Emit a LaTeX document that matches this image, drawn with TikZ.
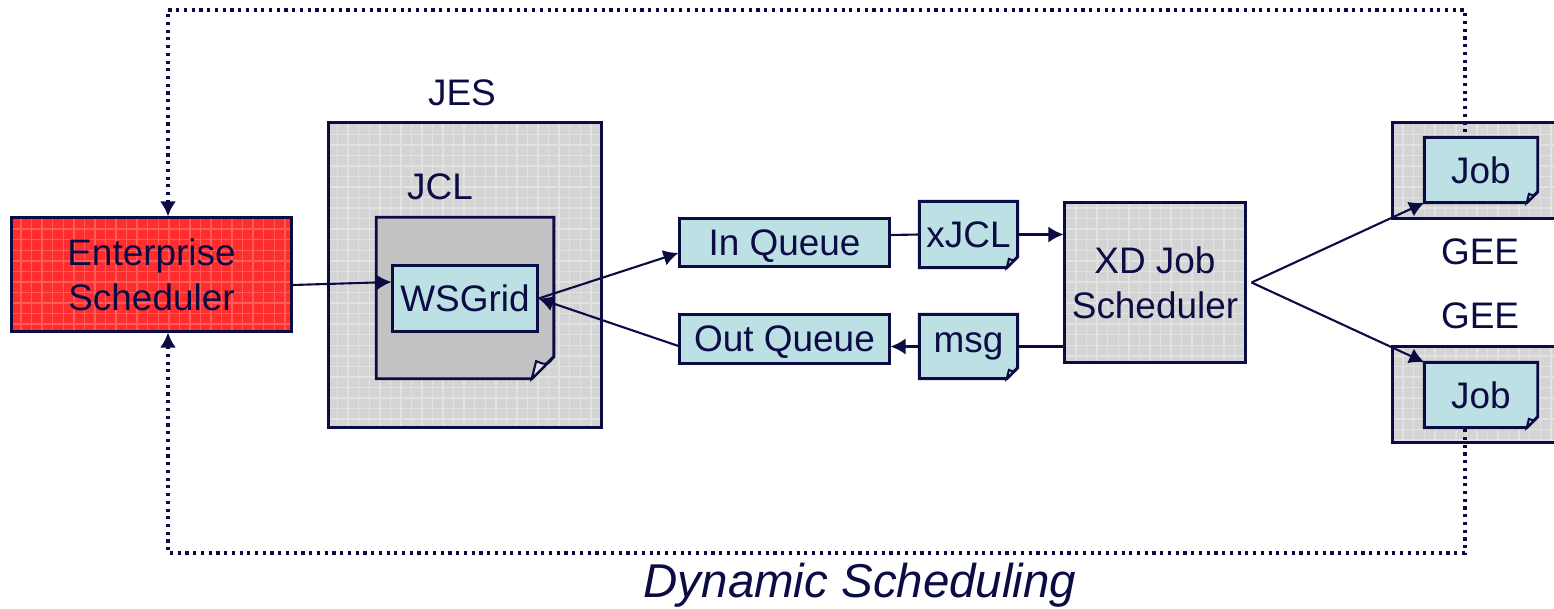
\documentclass[tikz,border=0pt]{standalone}
\usepackage{fontspec}
\setmainfont{Liberation Sans}
\usetikzlibrary{positioning, arrows.meta, patterns}
\definecolor{NavyColor}{RGB}{12,12,68}
\definecolor{QueueColor}{RGB}{188,224,228}
\definecolor{PanelColor}{RGB}{212,212,212}
\definecolor{GridColor}{RGB}{226,226,226}
\definecolor{DocColor}{RGB}{194,194,194}
\definecolor{AlertColor}{RGB}{255,45,45}
\pgfdeclarelayer{back}
\pgfdeclarelayer{docs}
\pgfsetlayers{back,docs,main}
% folded sheet under a node: name, fill, fold size
\newcommand{\docshape}[3]{%
  \fill[#2, draw=NavyColor, line width=0.85pt] (#1.north west) -- (#1.north east)
    -- ([yshift=#3]#1.south east) -- ([xshift=-#3]#1.south east) -- (#1.south west) -- cycle;
  \draw[NavyColor, line width=0.6pt, fill=white!55!#2] ([yshift=#3]#1.south east)
    .. controls ([xshift=-0.3*#3, yshift=0.6*#3]#1.south east) .. ([xshift=-0.8*#3, yshift=0.8*#3]#1.south east)
    -- ([xshift=-#3]#1.south east) -- cycle;}

\begin{document}
\begin{tikzpicture}[x=0.01cm, y=-0.01cm, >={Latex[length=1.5mm,width=1.6mm]},
    lbl/.style={font=\fontsize{10.5}{12.8}\selectfont, text=NavyColor, align=center, inner sep=0pt},
    one/.style={lbl, text depth=0pt},
    box/.style={lbl, draw=NavyColor, line width=0.85pt},
    panel/.style={box, preaction={fill=PanelColor}, pattern=grid, pattern color=GridColor},
    qbox/.style={box, one, fill=QueueColor},
    link/.style={NavyColor, line width=0.6pt},
    loopline/.style={NavyColor, line width=0.9pt, dash pattern=on 0.9pt off 1.3pt}]
  \useasboundingbox (0,0) rectangle (1554,609);
  % Panels
  \begin{pgfonlayer}{back}
    \node[panel, minimum width=2.72cm, minimum height=3.04cm] (jes) at (465,275) {};
    \node[panel, minimum width=2.07cm, minimum height=0.95cm] (geeA) at (1496.5,170.5) {};
    \node[panel, minimum width=2.07cm, minimum height=0.95cm] (geeB) at (1496.5,394.5) {};
  \end{pgfonlayer}
  \node[box, minimum width=2.79cm, minimum height=1.13cm, preaction={fill=AlertColor},
        pattern=grid, pattern color=AlertColor!78!white] (es) at (151.5,274.5) {Enterprise\\Scheduler};
  \node[panel, minimum width=1.80cm, minimum height=1.59cm] (xd) at (1155,282.5) {XD Job\\Scheduler};
  % Labels
  \node[lbl] (jeslbl) at (462,93) {JES};
  \node[lbl] (jcllbl) at (440,187) {JCL};
  \node[lbl] (geeAlbl) at (1480,252) {GEE};
  \node[lbl] (geeBlbl) at (1480,316) {GEE};
  \node[lbl, font=\fontsize{13.5}{16}\selectfont\itshape] (dyn) at (860,585) {Dynamic Scheduling};
  % Sheets
  \node[lbl, minimum width=1.76cm, minimum height=1.60cm] (jcl) at (465,298) {};
  \node[one, minimum width=0.97cm, minimum height=0.65cm] (xjcl) at (968.5,234.5) {xJCL};
  \node[lbl, minimum width=0.97cm, minimum height=0.63cm] (msg) at (968.5,346.5) {msg};
  \node[one, minimum width=1.12cm, minimum height=0.64cm] (jobA) at (1481,170) {Job};
  \node[one, minimum width=1.12cm, minimum height=0.64cm] (jobB) at (1481,395) {Job};
  \begin{pgfonlayer}{docs}
    \docshape{jcl}{DocColor}{0.22cm}
    \docshape{xjcl}{QueueColor}{0.11cm}
    \docshape{msg}{QueueColor}{0.11cm}
    \docshape{jobA}{QueueColor}{0.11cm}
    \docshape{jobB}{QueueColor}{0.11cm}
  \end{pgfonlayer}
  % Queues
  \node[qbox, minimum width=1.44cm, minimum height=0.65cm] (wsgrid) at (465,298.5) {WSGrid};
  \node[qbox, minimum width=2.09cm, minimum height=0.47cm] (inq) at (784.5,242.5) {In Queue};
  \node[qbox, minimum width=2.09cm, minimum height=0.48cm] (outq) at (784.5,339) {Out Queue};
  % Connectors
  \draw[link, ->] ([yshift=-0.105cm]es.east) -- ([yshift=0.165cm]wsgrid.west);
  \draw[link, ->] (wsgrid.east) -- ([yshift=-0.105cm]inq.west);
  \draw[link, ->] ([yshift=-0.07cm]outq.west) -- (wsgrid.east);
  \draw[link] ([yshift=0.075cm]inq.east) -- (xjcl.west);
  \draw[link, ->] (xjcl.east) -- (xjcl.east -| xd.west);
  \draw[link] (msg.east -| xd.west) -- (msg.east);
  \draw[link, ->] (msg.west) -- (msg.west -| outq.east);
  \draw[link, ->] ([xshift=0.05cm]xd.east) -- (jobA.south west);
  \draw[link, ->] ([xshift=0.05cm]xd.east) -- (jobB.north west);
  % Dynamic scheduling loop
  \coordinate (tl) at (168,10);
  \coordinate (tr) at (1465,10);
  \coordinate (bl) at (168,553);
  \coordinate (br) at (1465,553);
  \draw[loopline, <-] (es.north -| tl) -- (tl) -- (tr) -- (tr |- jobA.north);
  \draw[loopline, <-] (es.south -| bl) -- (bl) -- (br) -- (br |- jobB.south);
\end{tikzpicture}
\end{document}
